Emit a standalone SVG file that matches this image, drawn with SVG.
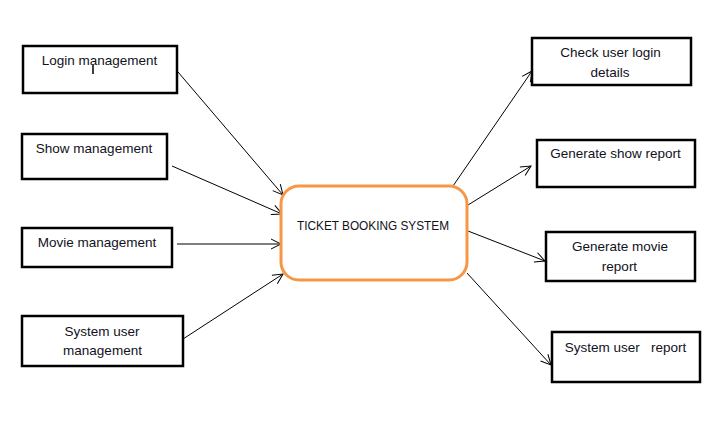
<svg xmlns="http://www.w3.org/2000/svg" width="719" height="433" viewBox="0 0 719 433">
<style>
.box{fill:#fff;stroke:#000;stroke-width:2.5}
.main{fill:#fff;stroke:#F79646;stroke-width:3}
.t{font-family:"Liberation Sans",Arial,sans-serif;font-size:13.5px;fill:#111122;text-anchor:middle;white-space:pre}
.c{stroke:#000;stroke-width:1;fill:none;marker-end:url(#a)}
</style>
<defs>
<marker id="a" markerWidth="12" markerHeight="12" refX="11" refY="6" orient="auto" markerUnits="userSpaceOnUse">
<path d="M1,1 L11,6 L1,11" fill="none" stroke="#000" stroke-width="1"/>
</marker>
</defs>
<rect width="719" height="433" fill="#fff"/>
<g id="connectors">
<line class="c" x1="178" y1="72" x2="283" y2="195"/>
<line class="c" x1="172" y1="166" x2="282" y2="214"/>
<line class="c" x1="177" y1="244" x2="281" y2="244"/>
<line class="c" x1="183" y1="339" x2="283" y2="274"/>
<line class="c" x1="453" y1="186" x2="532" y2="71"/>
<line class="c" x1="468" y1="205" x2="531" y2="166"/>
<line class="c" x1="468" y1="231" x2="545" y2="261"/>
<line class="c" x1="467" y1="273" x2="551" y2="365"/>
</g>
<g id="login">
<rect class="box" x="23" y="46" width="154" height="47"/>
<text class="t" x="99.5" y="65">Login management</text>
<line x1="93" y1="65" x2="93" y2="74" stroke="#000" stroke-width="1.5"/>
</g>
<g id="show">
<rect class="box" x="22" y="134" width="145" height="45"/>
<text class="t" x="94" y="153">Show management</text>
</g>
<g id="movie">
<rect class="box" x="22" y="228" width="150" height="39"/>
<text class="t" x="97" y="247">Movie management</text>
</g>
<g id="sysuser">
<rect class="box" x="22" y="316" width="161" height="50"/>
<text class="t" x="102" y="336">System user</text>
<text class="t" x="102.5" y="355">management</text>
</g>
<g id="center">
<rect class="main" x="281" y="186" width="186" height="94" rx="18" ry="18"/>
<text class="t" x="373" y="230" font-size="13" textLength="152" lengthAdjust="spacingAndGlyphs">TICKET BOOKING SYSTEM</text>
</g>
<g id="check">
<rect class="box" x="532" y="38" width="159" height="47"/>
<text class="t" x="610.5" y="57">Check user login</text>
<text class="t" x="610" y="77">details</text>
</g>
<g id="genshow">
<rect class="box" x="537" y="140" width="158" height="47"/>
<text class="t" x="615.5" y="158">Generate show report</text>
</g>
<g id="genmovie">
<rect class="box" x="546" y="232" width="149" height="49"/>
<text class="t" x="620" y="251">Generate movie</text>
<text class="t" x="619.5" y="271">report</text>
</g>
<g id="sysreport">
<rect class="box" x="552" y="332" width="148" height="50"/>
<text class="t" x="625.5" y="352">System user   report</text>
</g>
</svg>
